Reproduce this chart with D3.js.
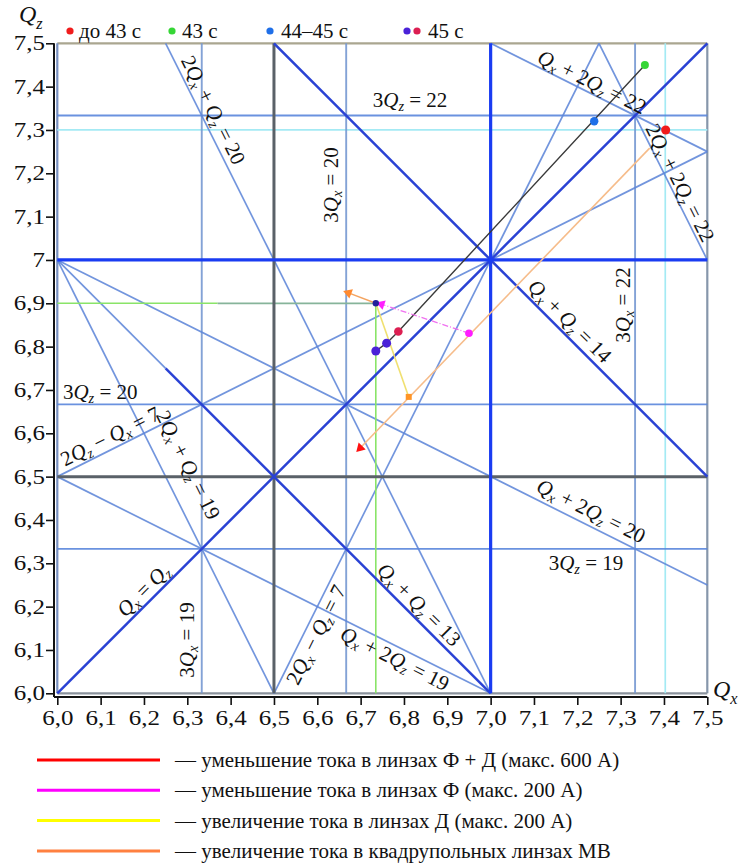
<!DOCTYPE html>
<html>
<head>
<meta charset="utf-8">
<script src="https://cdn.jsdelivr.net/npm/d3@7"></script>
<style>
  body { margin: 0; background: #fff; }
  svg { display: block; }
  text { font-family: "Liberation Serif", Tinos, "Times New Roman", "DejaVu Serif", serif; fill: #111; }
</style>
</head>
<body>
<svg id="chart" width="740" height="863"></svg>
<script>
// ---- Axis ticks ----
const qxTicks = [6.0, 6.1, 6.2, 6.3, 6.4, 6.5, 6.6, 6.7, 6.8, 6.9, 7.0, 7.1, 7.2, 7.3, 7.4, 7.5];
const qzTicks = [6.0, 6.1, 6.2, 6.3, 6.4, 6.5, 6.6, 6.7, 6.8, 6.9, 7.0, 7.1, 7.2, 7.3, 7.4, 7.5];
const qzTickLabels = ["6,0", "6,1", "6,2", "6,3", "6,4", "6,5", "6,6", "6,7", "6,8", "6,9", "7", "7,1", "7,2", "7,3", "7,4", "7,5"];
const qxTickLabels = ["6,0", "6,1", "6,2", "6,3", "6,4", "6,5", "6,6", "6,7", "6,8", "6,9", "7,0", "7,1", "7,2", "7,3", "7,4", "7,5"];

// ---- Resonance lines: [from (Qx,Qz), to (Qx,Qz)] ----
const thirdOrderVertical = [
  [[6 + 1/3, 6], [6 + 1/3, 7.5]],      // 3Qx = 19
  [[6 + 2/3, 6], [6 + 2/3, 7.5]],      // 3Qx = 20
  [[7 + 1/3, 6], [7 + 1/3, 7.5]]       // 3Qx = 22
];
const thirdOrderHorizontal = [
  [[6, 6 + 1/3], [7.5, 6 + 1/3]],      // 3Qz = 19
  [[6, 6 + 2/3], [7.5, 6 + 2/3]],      // 3Qz = 20
  [[6, 7 + 1/3], [7.5, 7 + 1/3]]       // 3Qz = 22
];
const thirdOrderCoupled = [
  [[6, 7], [6.5, 6]],                  // 2Qx + Qz = 19
  [[6.25, 7.5], [7, 6]],               // 2Qx + Qz = 20
  [[7.25, 7.5], [7.5, 7]],             // 2Qx + Qz = 22
  [[6, 6.5], [7, 6]],                  // Qx + 2Qz = 19
  [[6, 7], [7.5, 6.25]],               // Qx + 2Qz = 20
  [[7, 7.5], [7.5, 7.25]],             // Qx + 2Qz = 22
  [[6.5, 6], [7.25, 7.5]],             // 2Qx - Qz = 7
  [[6, 6.5], [7.5, 7.25]],             // 2Qz - Qx = 7
  [[6, 7], [6.25, 6.75]]               // Qx + Qz = 13 (upper part)
];
const halfIntegerLines = [
  [[6.5, 6], [6.5, 7.5]],              // 2Qx = 13
  [[6, 6.5], [7.5, 6.5]]               // 2Qz = 13
];
const integerLines = [
  [[7, 6], [7, 7.5]],                  // Qx = 7
  [[6, 7], [7.5, 7]]                   // Qz = 7
];
const couplingLines = [
  [[6, 6], [7.5, 7.5]],                // Qx = Qz
  [[6.5, 7.5], [7.5, 6.5]],            // Qx + Qz = 14
  [[6.25, 6.75], [7, 6]]               // Qx + Qz = 13
];
// working point guide lines
const workingGreen = [
  [[6, 6.9], [6.37, 6.9]],
  [[6.37, 6.9], [6.735, 6.9]],
  [[6.735, 6.9], [6.735, 6]]
];
const workingCyan = [
  [[7.403, 6], [7.403, 7.5]],
  [[6, 7.3], [7.5, 7.3]]
];

// ---- Resonance labels: text, anchor (Qx,Qz), rotation ----
const labelTexts = [
  "2Q_x + Q_z = 20", "3Q_z = 22", "3Q_x = 20", "Q_x + 2Q_z = 22", "2Q_x + 2Q_z = 22",
  "Q_x + Q_z = 14", "3Q_x = 22", "3Q_z = 20", "2Q_z − Q_x = 7", "2Q_x + Q_z = 19",
  "Q_x = Q_z", "3Q_x = 19", "2Q_x − Q_z = 7", "Q_x + 2Q_z = 19", "Q_x + Q_z = 13",
  "Q_x + 2Q_z = 20", "3Q_z = 19"
];
const labelAnchors = [
  [6.360, 7.346], [6.814, 7.369], [6.632, 7.173], [7.234, 7.411], [7.437, 7.178],
  [7.183, 6.859], [7.306, 6.896], [6.099, 6.695], [6.122, 6.593], [6.302, 6.527],
  [6.198, 6.238], [6.300, 6.123], [6.597, 6.135], [6.779, 6.080], [6.835, 6.205],
  [7.232, 6.421], [7.220, 6.301]
];
const labelAngles = [63.43, 0, -90, 26.57, 63.43, 45, -90, 0, -26.57, 63.43, -45, -90, -63.43, 26.57, 45, 26.57, 0];

// ---- Tune trajectories ----
const blackPath   = [[6.735, 6.79], [6.76, 6.808], [6.787, 6.835], [7.356, 7.45]];
const orangeShort = [[6.735, 6.90], [6.672, 6.924]];
const magentaPath = [[6.95, 6.831], [6.748, 6.898]];
const yellowPath  = [[6.735, 6.90], [6.811, 6.684]];
const orangeLong  = [[7.367, 7.258], [6.699, 6.566]];

// ---- Measured tune points ----
const pointsQx    = [7.404, 7.356, 7.239, 6.735, 6.760, 6.787, 6.735, 6.950, 6.811];
const pointsQz    = [7.300, 7.450, 7.320, 6.790, 6.808, 6.835, 6.900, 6.831, 6.684];
const pointsGroup = ["red", "green", "blue", "violet", "violet", "crimson", "navy", "magenta", "orangeSq"];

// ---- Legends ----
const timeLegend = [
  { dots: ["red"], text: "до 43 с" },
  { dots: ["green"], text: "43 с" },
  { dots: ["blue"], text: "44–45 с" },
  { dots: ["violet", "crimson"], text: "45 с" }
];
const lineLegendColors = ["red", "magenta", "yellow", "orange"];
const lineLegendTexts = [
  "— уменьшение тока в линзах Ф + Д (макс. 600 А)",
  "— уменьшение тока в линзах Ф (макс. 200 А)",
  "— увеличение тока в линзах Д (макс. 200 А)",
  "— увеличение тока в квадрупольных линзах МВ"
];

// ---- Styles ----
const serif = "'Liberation Serif', Tinos, 'Times New Roman', 'DejaVu Serif', serif";
const pointColor = {
  red: "#f01c1c", green: "#36d636", blue: "#1f6fe8", violet: "#4a22d8",
  crimson: "#dc1f52", navy: "#24209a", magenta: "#ff1cff", orangeSq: "#ff9424"
};
const pointRadius = { red: 4.5, green: 4, blue: 4.2, violet: 4.5, crimson: 4.3, navy: 3.2, magenta: 3.8, orangeSq: 3.5 };
const legendLineColor = { red: "#ff0000", magenta: "#ff00ff", yellow: "#ffff00", orange: "#ff8040" };
const tickStretch = 1.25;   // tick numerals are set wide

const svg = d3.select("#chart").attr("font-family", serif);
const x = d3.scaleLinear().domain([6, 7.5]).range([57.3, 707.3]);
const y = d3.scaleLinear().domain([6, 7.5]).range([693.3, 43.3]);
const line = d3.line().x(d => x(d[0])).y(d => y(d[1]));

function drawSegments(segs, stroke, width, opacity) {
  svg.append("g").selectAll("path").data(segs).join("path")
    .attr("d", d => line(d))
    .attr("fill", "none")
    .attr("stroke", stroke)
    .attr("stroke-width", width)
    .attr("stroke-opacity", opacity == null ? 1 : opacity);
}

// plot frame
svg.append("line").attr("x1", x(6)).attr("x2", x(7.5)).attr("y1", y(7.5)).attr("y2", y(7.5))
  .attr("stroke", "#aaa690").attr("stroke-width", 2.2);
svg.append("line").attr("x1", x(7.5)).attr("x2", x(7.5)).attr("y1", y(7.5)).attr("y2", y(6))
  .attr("stroke", "#8696ab").attr("stroke-width", 2.2);
svg.append("line").attr("x1", x(6)).attr("x2", x(7.5)).attr("y1", y(6)).attr("y2", y(6))
  .attr("stroke", "#8a929c").attr("stroke-width", 2.2);
svg.append("line").attr("x1", x(6)).attr("x2", x(6)).attr("y1", y(7.5)).attr("y2", y(6))
  .attr("stroke", "#7890c0").attr("stroke-width", 2.2);

// resonance lines
drawSegments(workingCyan, "#a4eaf4", 1.7);
drawSegments(thirdOrderVertical, "#7598d2", 1.9, 0.9);
drawSegments(thirdOrderHorizontal, "#5a86dc", 1.8, 0.9);
drawSegments(thirdOrderCoupled, "#5f86d8", 1.7, 0.88);
drawSegments([workingGreen[0], workingGreen[2]], "#8ae468", 1.6);
drawSegments([workingGreen[1]], "#86b49a", 1.7);
drawSegments(halfIntegerLines, "#5a6168", 3);
drawSegments(couplingLines, "#2a42d4", 2.5);
drawSegments(integerLines, "#1a3cf2", 3.2);

// axes
const fmtIdx = (ticks, labels) => v => labels[ticks.findIndex(t => Math.abs(t - v) < 1e-9)];
const yAxis = svg.append("g").attr("transform", "translate(54,0)")
  .call(d3.axisLeft(y).tickValues(qzTicks).tickSize(8).tickSizeOuter(0).tickPadding(1)
    .tickFormat(fmtIdx(qzTicks, qzTickLabels)));
const xAxis = svg.append("g").attr("transform", "translate(0,697)")
  .call(d3.axisBottom(x).tickValues(qxTicks).tickSize(8).tickSizeOuter(0).tickPadding(6)
    .tickFormat(fmtIdx(qxTicks, qxTickLabels)));
[yAxis, xAxis].forEach(g => {
  g.attr("font-family", serif).attr("font-size", 20);
  g.select(".domain").attr("stroke", "#111").attr("stroke-width", 2);
  g.selectAll(".tick line").attr("stroke", "#111").attr("stroke-width", 1.6);
  g.selectAll(".tick text").attr("font-family", serif).attr("font-size", 20).attr("fill", "#111");
});
// widen the numerals around their anchor points
yAxis.selectAll(".tick text").each(function () {
  const t = d3.select(this), tx = +t.attr("x");
  t.attr("x", 0).attr("transform", `translate(${tx},0) scale(${tickStretch},1)`);
});
xAxis.selectAll(".tick text").each(function () {
  const t = d3.select(this), ty = +t.attr("y");
  t.attr("y", 0).attr("transform", `translate(0,${ty}) scale(${tickStretch},1)`);
});
yAxis.select(".domain").attr("d", `M0,${y(7.5)}V697`);
xAxis.select(".domain").attr("d", `M54,0H${x(7.5)}`);

// label with italic Q and subscripts
function richText(sel, str, size) {
  const parts = str.split(/(Q_[xz])/).filter(s => s.length);
  let shifted = false;
  const sub = Math.round(size * 0.3);
  parts.forEach(p => {
    if (p.startsWith("Q_")) {
      const q = sel.append("tspan").attr("font-style", "italic").text("Q");
      if (shifted) { q.attr("dy", -sub); shifted = false; }
      sel.append("tspan").attr("font-style", "italic").attr("font-size", size * 0.68)
        .attr("dy", sub).text(p[2]);
      shifted = true;
    } else {
      const t = sel.append("tspan").text(p);
      if (shifted) { t.attr("dy", -sub); shifted = false; }
    }
  });
}

labelTexts.forEach((s, i) => {
  const px = x(labelAnchors[i][0]), py = y(labelAnchors[i][1]);
  const t = svg.append("text")
    .attr("transform", `translate(${px},${py}) rotate(${labelAngles[i]})`)
    .attr("text-anchor", "middle").attr("dominant-baseline", "central")
    .attr("font-size", 21).attr("xml:space", "preserve");
  richText(t, s, 21);
});

// axis titles
const qzTitle = svg.append("text").attr("x", 19).attr("y", 22).attr("font-size", 24);
richText(qzTitle, "Q_z", 24);
const qxTitle = svg.append("text").attr("x", 713).attr("y", 697).attr("font-size", 24);
richText(qxTitle, "Q_x", 24);

// tune trajectories
function drawPath(pts, color, width, dash) {
  svg.append("path").attr("d", line(pts)).attr("fill", "none")
    .attr("stroke", color).attr("stroke-width", width)
    .attr("stroke-dasharray", dash || null);
}
function arrowHead(pts, color, size) {
  const a = pts[pts.length - 2], b = pts[pts.length - 1];
  const ang = Math.atan2(y(b[1]) - y(a[1]), x(b[0]) - x(a[0])) * 180 / Math.PI;
  svg.append("path").attr("d", d3.symbol(d3.symbolTriangle, size)())
    .attr("transform", `translate(${x(b[0])},${y(b[1])}) rotate(${ang + 90})`)
    .attr("fill", color);
}
drawPath(orangeLong, "#f6bc8a", 1.6);
drawPath(blackPath, "#3a3a3a", 1.4);
drawPath(yellowPath, "#f0e070", 1.6);
drawPath(orangeShort, "#f4a460", 1.5);
drawPath(magentaPath, "#f070f0", 1.3, "6,2,1,2");
arrowHead(orangeShort, "#ff8a30", 42);
arrowHead(magentaPath, "#ff20ff", 42);
arrowHead(orangeLong, "#ff1010", 42);

// tune points
svg.append("g").selectAll("path").data(pointsQx.map((q, i) => i)).join("path")
  .attr("d", i => pointsGroup[i] === "orangeSq"
    ? d3.symbol(d3.symbolSquare, 36)()
    : d3.symbol(d3.symbolCircle, Math.PI * pointRadius[pointsGroup[i]] ** 2)())
  .attr("transform", i => `translate(${x(pointsQx[i])},${y(pointsQz[i])})`)
  .attr("fill", i => pointColor[pointsGroup[i]]);

// time legend
const legendX = [70, 172, 270, 407];
const legendTextX = [79, 182, 281, 428];
timeLegend.forEach((d, i) => {
  d.dots.forEach((c, j) => {
    svg.append("circle").attr("cx", legendX[i] + j * 10).attr("cy", 31).attr("r", 3.6)
      .attr("fill", pointColor[c]);
  });
  svg.append("text").attr("x", legendTextX[i]).attr("y", 31).attr("dominant-baseline", "central")
    .attr("font-size", 21).text(d.text);
});

// line legend
lineLegendTexts.forEach((s, i) => {
  const ly = 760 + i * 30.3;
  svg.append("line").attr("x1", 37).attr("x2", 160).attr("y1", ly).attr("y2", ly)
    .attr("stroke", legendLineColor[lineLegendColors[i]]).attr("stroke-width", 3);
  svg.append("text").attr("x", 175).attr("y", ly).attr("dominant-baseline", "central")
    .attr("font-size", 21).text(s);
});
</script>
</body>
</html>
